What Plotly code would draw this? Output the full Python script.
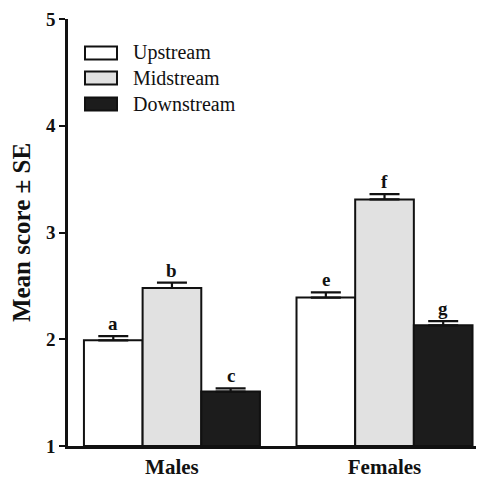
import plotly.graph_objects as go

categories = ["Males", "Females"]
series_names = ["Upstream", "Midstream", "Downstream"]
upstream = [1.99, 2.39]
midstream = [2.48, 3.31]
downstream = [1.51, 2.13]
upstream_se = [0.04, 0.05]
midstream_se = [0.05, 0.05]
downstream_se = [0.03, 0.04]
letters_up = ["a", "e"]
letters_mid = ["b", "f"]
letters_down = ["c", "g"]
y_ticks = [1, 2, 3, 4, 5]

colors = ["#ffffff", "#e1e1e1", "#1c1c1c"]
values = [upstream, midstream, downstream]
ses = [upstream_se, midstream_se, downstream_se]
letters = [letters_up, letters_mid, letters_down]

# page body has an 8px margin; size the figure so the plot lands where the reference has it
OFF = 8
W, H = 484 - OFF, 480 - OFF
PLOT_L, PLOT_R, PLOT_T, PLOT_B = 68, 484, 19, 446  # window pixels
ML, MR = PLOT_L - OFF, W - (PLOT_R - OFF)
MT, MB = PLOT_T - OFF, H - (PLOT_B - OFF)
bargap = 0.172
FONT = "Liberation Serif"

fig = go.Figure()
for name, vals, se, col in zip(series_names, values, ses, colors):
    fig.add_trace(go.Bar(
        x=categories, y=[v - 1 for v in vals], base=1, name=name,
        marker=dict(color=col, line=dict(color="#111111", width=2)),
        error_y=dict(type="data", array=se, arrayminus=[0] * len(se), symmetric=False,
                     color="#111111", thickness=2.2, width=15),
        showlegend=False,
    ))

barw = (1 - bargap) / 3
annotations = []
for i, (vals, se, lets) in enumerate(zip(values, ses, letters)):
    for j in range(len(categories)):
        annotations.append(dict(
            x=j + (i - 1) * barw, y=vals[j] + se[j], xref="x", yref="y",
            text="<b>%s</b>" % lets[j], showarrow=False, yanchor="bottom", yshift=0,
            font=dict(family=FONT, size=19, color="#111111")))

# custom legend (window pixel positions converted to paper coords)
pw, ph = PLOT_R - PLOT_L, PLOT_B - PLOT_T
def px(x):
    return (x - PLOT_L) / pw
def py(y):
    return (PLOT_B - y) / ph

shapes = []
leg_y = [53, 78, 104]
for name, col, yc in zip(series_names, colors, leg_y):
    shapes.append(dict(type="rect", xref="paper", yref="paper",
                       x0=px(85), x1=px(117), y0=py(yc + 6.5), y1=py(yc - 6.5),
                       fillcolor=col, line=dict(color="#111111", width=2)))
    annotations.append(dict(x=px(131), y=py(yc), xref="paper", yref="paper",
                            text=name, showarrow=False, xanchor="left", yanchor="middle",
                            font=dict(family=FONT, size=20, color="#111111")))

fig.update_layout(
    width=W, height=H, margin=dict(l=ML, r=MR, t=MT, b=MB, autoexpand=False),
    paper_bgcolor="white", plot_bgcolor="white",
    barmode="group", bargap=bargap, bargroupgap=0,
    shapes=shapes, annotations=annotations,
    font=dict(family=FONT, color="#111111"),
    xaxis=dict(type="category", range=[-0.489, 1.468], showline=True, linecolor="#111111",
               linewidth=2.5, ticks="", showgrid=False, zeroline=False, automargin=False,
               tickfont=dict(family=FONT, size=21, color="#111111"),
               tickvals=categories, ticktext=["<b>%s</b>" % c for c in categories]),
    yaxis=dict(range=[1, 5], showline=True, linecolor="#111111", linewidth=2.5,
               ticks="outside", ticklen=6, tickwidth=2, tickcolor="#111111",
               tickvals=y_ticks, ticktext=["<b>%d</b>" % t for t in y_ticks],
               showgrid=False, zeroline=False, automargin=False,
               tickfont=dict(family=FONT, size=19, color="#111111"),
               title=dict(text="<b>Mean score ± SE</b>", standoff=11,
                          font=dict(family=FONT, size=25, color="#111111"))),
)

fig.write_html("out.html")
